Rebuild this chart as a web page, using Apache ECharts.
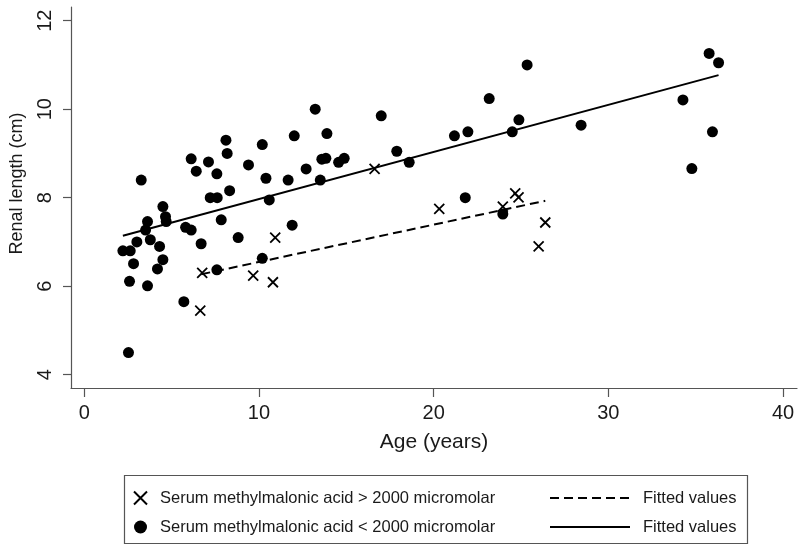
<!DOCTYPE html>
<html>
<head>
<meta charset="utf-8">
<script src="https://cdn.jsdelivr.net/npm/echarts@6/dist/echarts.min.js"></script>
<style>
  html, body { margin: 0; padding: 0; background: #fff; }
  #chart { width: 800px; height: 549px; }
</style>
</head>
<body>
<div id="chart"></div>
<script>
// serum MMA > 2000 micromolar (crosses)
const highAge = [6.75, 6.64, 9.67, 10.80, 10.93, 16.62, 20.32, 23.96, 24.67, 24.86, 26.39, 26.01]
const highLen = [6.30, 5.45, 6.24, 6.09, 7.10, 8.65, 7.75, 7.80, 8.10, 8.01, 7.44, 6.90]

// serum MMA < 2000 micromolar (dots)
const lowAge = [
  3.26, 6.12, 6.41, 7.11, 7.59, 8.11, 8.18, 8.32, 7.21, 7.61, 9.40, 10.19, 10.40, 10.59,
  11.67, 12.02, 11.90, 4.50, 4.65, 4.69, 3.62, 7.84, 5.80, 6.12, 3.51, 3.01, 3.78, 2.21,
  2.63, 4.31, 2.82, 4.50, 4.19, 2.59, 3.62, 2.53, 5.70, 6.69, 7.59, 8.81, 10.19, 13.22,
  13.89, 12.70, 13.51, 13.60, 13.83, 14.56, 14.88, 17.00, 17.89, 18.60, 21.19, 21.96,
  23.18, 24.50, 24.88, 28.44, 21.81, 23.96, 35.77, 36.31, 34.27, 35.96, 34.78, 25.35
]
const lowLen = [
  8.40, 8.88, 8.60, 8.81, 8.54, 9.30, 9.00, 8.16, 8.00, 8.00, 8.74, 9.20, 8.44, 7.95,
  8.40, 9.40, 7.38, 7.80, 7.57, 7.46, 7.46, 7.50, 7.33, 7.27, 7.27, 7.00, 7.05, 6.80,
  6.80, 6.90, 6.51, 6.60, 6.39, 6.11, 6.01, 4.50, 5.65, 6.96, 6.37, 7.10, 6.63, 10.00,
  9.45, 8.65, 8.40, 8.87, 8.89, 8.80, 8.89, 9.85, 9.05, 8.80, 9.40, 9.49,
  10.24, 9.49, 9.76, 9.64, 8.00, 7.63, 11.26, 11.05, 10.21, 9.49, 8.66, 11.00
]

// fitted values (end points)
const fitHighAge = [6.70, 26.39]
const fitHighLen = [6.27, 7.93]
const fitLowAge = [2.21, 36.31]
const fitLowLen = [7.14, 10.77]

const xTicks = [0, 10, 20, 30, 40]
const yTicks = [4, 6, 8, 10, 12]

const FONT = '"Liberation Sans", Arial, sans-serif'
const zip = (a, b) => a.map((v, i) => [v, b[i]])
const crossPath = 'path://M0,0L10,10M0,10L10,0'

const chart = echarts.init(document.getElementById('chart'))
chart.setOption({
  animation: false,
  backgroundColor: '#fff',
  textStyle: { fontFamily: FONT },
  grid: { left: 71, right: 3, top: 7, bottom: 161 },
  xAxis: {
    type: 'value',
    min: -0.76,
    max: 40.8,
    name: 'Age (years)',
    nameLocation: 'middle',
    nameGap: 44,
    nameTextStyle: { fontSize: 21, color: '#1a1a1a', fontFamily: FONT },
    axisLine: { show: true, onZero: false, lineStyle: { color: '#555', width: 1.2 } },
    axisTick: { show: true, inside: false, length: 9, customValues: xTicks, lineStyle: { color: '#555', width: 1.2 } },
    axisLabel: { customValues: xTicks, fontSize: 20, color: '#1a1a1a', margin: 15, fontFamily: FONT },
    splitLine: { show: false }
  },
  yAxis: {
    type: 'value',
    min: 3.7,
    max: 12.31,
    name: 'Renal length (cm)',
    nameLocation: 'middle',
    nameGap: 45,
    nameTextStyle: { fontSize: 18, color: '#1a1a1a', fontFamily: FONT, padding: [0, 0, 0, 28] },
    axisLine: { show: true, onZero: false, lineStyle: { color: '#555', width: 1.2 } },
    axisTick: { show: true, inside: false, length: 8, customValues: yTicks, lineStyle: { color: '#555', width: 1.2 } },
    axisLabel: { customValues: yTicks, fontSize: 20, color: '#1a1a1a', margin: 16, rotate: 90, fontFamily: FONT },
    splitLine: { show: false }
  },
  graphic: [{
    type: 'rect',
    left: 122,
    top: 473,
    shape: { width: 623, height: 68 },
    style: { fill: 'none', stroke: '#555', lineWidth: 1.2 },
    z: 0
  }],
  legend: [
    {
      orient: 'vertical',
      left: 128,
      top: 484,
      itemWidth: 13,
      itemHeight: 13,
      itemGap: 11,
      data: ['Serum methylmalonic acid > 2000 micromolar', 'Serum methylmalonic acid < 2000 micromolar'],
      textStyle: { fontSize: 16.5, color: '#1a1a1a', fontFamily: FONT, lineHeight: 18, padding: [0, 0, 0, 8] }
    },
    {
      orient: 'vertical',
      left: 544,
      top: 484,
      itemWidth: 80,
      itemHeight: 13,
      itemGap: 11,
      itemStyle: { opacity: 0 },
      data: ['Fitted values (high)', 'Fitted values (low)'],
      formatter: () => 'Fitted values',
      textStyle: { fontSize: 16.5, color: '#1a1a1a', fontFamily: FONT, lineHeight: 18, padding: [0, 0, 0, 8] }
    }
  ],
  series: [
    {
      name: 'Serum methylmalonic acid > 2000 micromolar',
      type: 'scatter',
      symbol: crossPath,
      symbolSize: 10,
      itemStyle: { color: 'transparent', borderColor: '#000', borderWidth: 1.8, opacity: 1 },
      data: zip(highAge, highLen),
      z: 3
    },
    {
      name: 'Serum methylmalonic acid < 2000 micromolar',
      type: 'scatter',
      symbol: 'circle',
      symbolSize: 11,
      itemStyle: { color: '#000', opacity: 1 },
      data: zip(lowAge, lowLen),
      z: 3
    },
    {
      name: 'Fitted values (high)',
      type: 'line',
      symbol: 'none',
      lineStyle: { color: '#000', width: 2, type: [9, 5] },
      itemStyle: { color: '#000' },
      data: zip(fitHighAge, fitHighLen),
      z: 2
    },
    {
      name: 'Fitted values (low)',
      type: 'line',
      symbol: 'none',
      lineStyle: { color: '#000', width: 2 },
      itemStyle: { color: '#000' },
      data: zip(fitLowAge, fitLowLen),
      z: 2
    }
  ]
})
window.addEventListener('resize', () => chart.resize())
</script>
</body>
</html>
